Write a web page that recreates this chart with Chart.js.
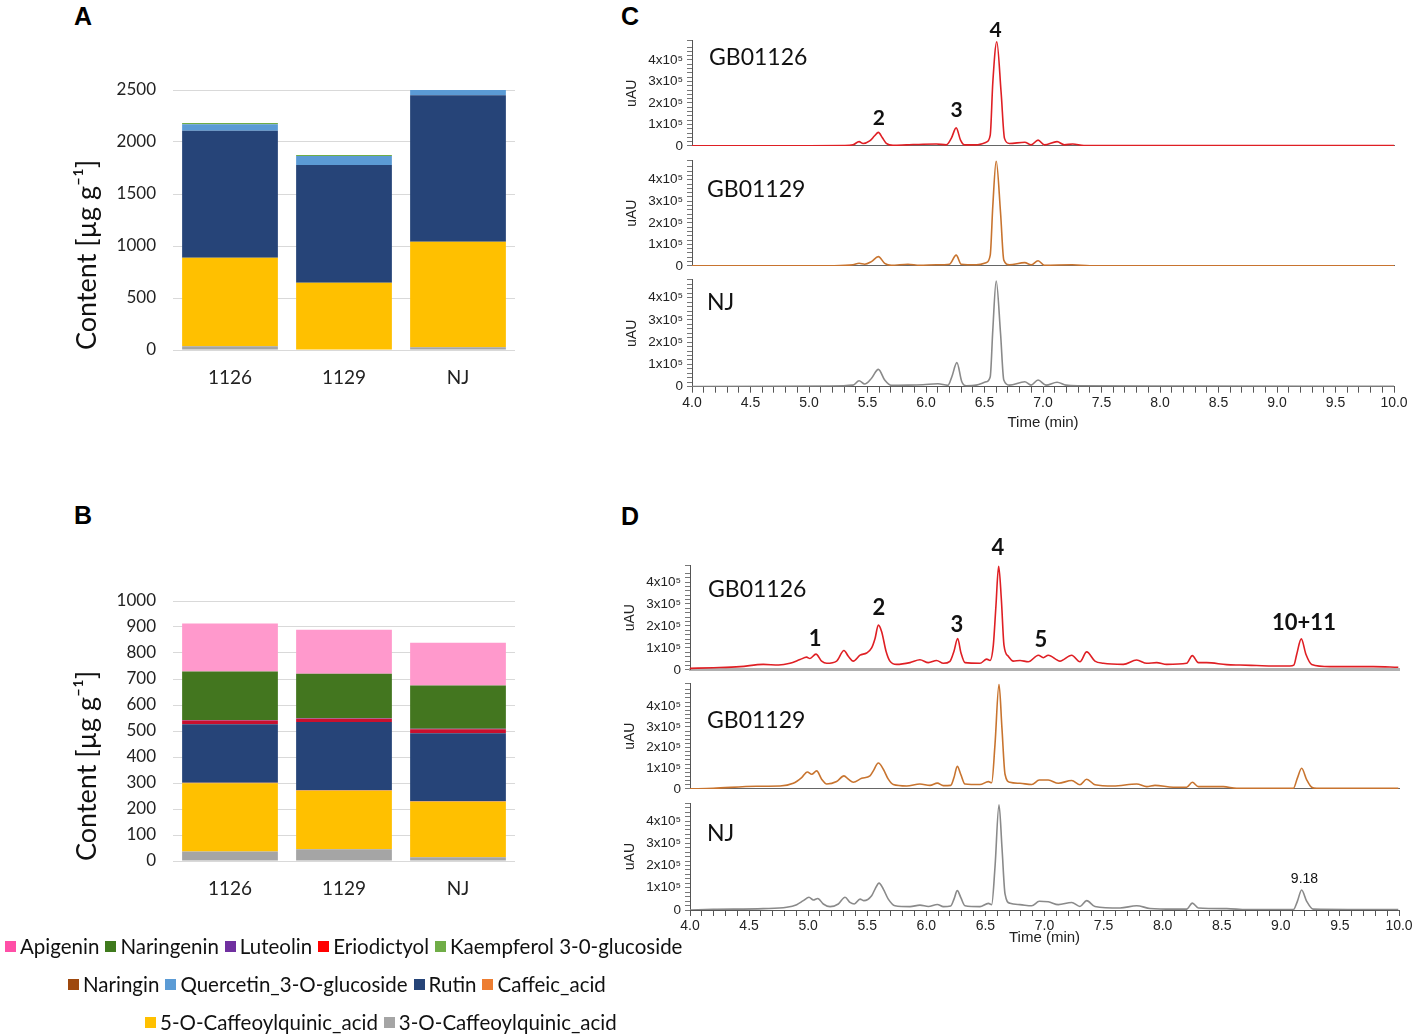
<!DOCTYPE html>
<html>
<head>
<meta charset="utf-8">
<script src="https://cdn.jsdelivr.net/npm/chart.js@4.4.1/dist/chart.umd.min.js"></script>
<style>
  html, body { margin: 0; padding: 0; background: #fff; }
  body { width: 1417px; height: 1034px; position: relative; overflow: hidden; }
  canvas { position: absolute; }
  .panel { position: absolute; font: bold 25px "Liberation Sans", Arial, sans-serif; line-height: 25px; color: #000; }
  #legend { position: absolute; left: 0; top: 927px; width: 720px; font: 20.5px Lato, sans-serif; color: #111; }
  .row { display: flex; height: 38px; align-items: center; white-space: nowrap; }
  .item { display: flex; align-items: center; margin-right: 6px; }
  .sw { width: 11px; height: 11px; margin-right: 4px; }
</style>
</head>
<body>
<div class="panel" style="left:74px;top:4px">A</div>
<div class="panel" style="left:74px;top:503px">B</div>
<div class="panel" style="left:621px;top:4px">C</div>
<div class="panel" style="left:621px;top:504px">D</div>

<canvas id="chartA"></canvas>
<canvas id="chartB"></canvas>
<canvas id="chartC1"></canvas>
<canvas id="chartC2"></canvas>
<canvas id="chartC3"></canvas>
<canvas id="chartD1"></canvas>
<canvas id="chartD2"></canvas>
<canvas id="chartD3"></canvas>
<div id="legend"></div>

<script>
// ---------- data ----------
const samples = ['1126', '1129', 'NJ'];
const compounds = ['Apigenin', 'Naringenin', 'Luteolin', 'Eriodictyol', 'Kaempferol 3-0-glucoside',
    'Naringin', 'Quercetin_3-O-glucoside', 'Rutin', 'Caffeic_acid',
    '5-O-Caffeoylquinic_acid', '3-O-Caffeoylquinic_acid'];

// panel A, content in µg/g, same order as compounds
const a1126 = [0, 0, 0, 0, 13, 0, 61, 1221, 0, 853, 35];
const a1129 = [0, 0, 0, 0, 10, 0, 86, 1132, 0, 642, 5];
const aNJ   = [0, 0, 0, 0, 0, 0, 51, 1407, 0, 1016, 26];

// panel B
const b1126 = [184, 187, 2, 14, 0, 0, 0, 225, 2, 262, 37];
const b1129 = [169, 171, 2, 12, 0, 0, 0, 263, 2, 225, 45];
const bNJ   = [164, 166, 2, 16, 0, 0, 0, 261, 2, 214, 14];

// chromatograms, [time (min), signal (x10^5 uAU)]
const c1126 = [[4.0,0.01],[4.5,0.01],[5.0,0.01],[5.3,0.02],[5.376,0.05],[5.428,0.2],[5.462,0.11],[5.519,0.23],
    [5.561,0.47],[5.593,0.63],[5.627,0.38],[5.661,0.12],[5.718,0.03],[5.832,0.05],[5.974,0.08],[6.088,0.09],
    [6.173,0.05],[6.216,0.35],[6.258,0.84],[6.295,0.27],[6.329,0.05],[6.429,0.05],[6.514,0.17],[6.549,0.5],
    [6.571,2.95],[6.605,4.85],[6.642,2.49],[6.671,0.35],[6.713,0.11],[6.844,0.17],[6.898,0.05],[6.958,0.27],
    [7.012,0.05],[7.12,0.2],[7.183,0.05],[7.254,0.09],[7.35,0.02],[8.0,0.02],[9.0,0.02],[10.0,0.02]];
const c1129 = [[4.0,0.0],[5.206,0.01],[5.376,0.05],[5.428,0.12],[5.476,0.08],[5.533,0.2],[5.593,0.43],[5.647,0.12],
    [5.704,0.03],[5.846,0.08],[5.945,0.03],[6.088,0.05],[6.201,0.08],[6.258,0.5],[6.301,0.08],[6.429,0.05],
    [6.514,0.15],[6.549,0.5],[6.571,2.78],[6.6,4.87],[6.637,2.48],[6.665,0.27],[6.713,0.05],[6.844,0.15],
    [6.898,0.05],[6.958,0.24],[7.012,0.03],[7.25,0.05],[7.4,0.01],[10.0,0.01]];
const cNJ = [[4.0,0.01],[5.177,0.03],[5.376,0.07],[5.428,0.27],[5.476,0.12],[5.533,0.37],[5.593,0.78],[5.647,0.3],
    [5.704,0.06],[5.846,0.07],[5.974,0.09],[6.102,0.13],[6.187,0.06],[6.221,0.45],[6.264,1.08],[6.306,0.22],
    [6.344,0.04],[6.429,0.07],[6.514,0.22],[6.549,0.45],[6.571,2.55],[6.6,4.75],[6.637,2.4],[6.665,0.3],
    [6.713,0.07],[6.844,0.22],[6.898,0.07],[6.958,0.3],[7.026,0.07],[7.12,0.2],[7.197,0.07],[7.3,0.04],
    [8.2,0.03],[10.0,0.02]];

const d1126 = [[4.0,0.07],[4.2,0.1],[4.423,0.15],[4.62,0.25],[4.75,0.22],[4.846,0.3],[4.931,0.47],[4.987,0.58],
    [5.015,0.52],[5.066,0.72],[5.114,0.4],[5.157,0.3],[5.241,0.4],[5.303,0.88],[5.34,0.62],[5.382,0.4],
    [5.439,0.67],[5.495,0.77],[5.537,1.0],[5.566,1.43],[5.594,2.04],[5.622,1.74],[5.659,0.85],[5.692,0.4],
    [5.749,0.25],[5.862,0.33],[5.946,0.46],[6.017,0.33],[6.087,0.43],[6.144,0.3],[6.2,0.39],[6.234,0.85],
    [6.265,1.43],[6.293,0.78],[6.327,0.33],[6.454,0.3],[6.511,0.49],[6.539,0.43],[6.567,1.13],[6.589,2.91],
    [6.612,4.73],[6.635,3.2],[6.657,1.13],[6.694,0.62],[6.736,0.4],[6.793,0.43],[6.863,0.37],[6.948,0.67],
    [6.99,0.55],[7.032,0.67],[7.131,0.4],[7.23,0.67],[7.3,0.37],[7.357,0.82],[7.427,0.4],[7.498,0.3],
    [7.667,0.25],[7.78,0.45],[7.865,0.3],[7.949,0.33],[8.034,0.25],[8.203,0.3],[8.251,0.65],[8.302,0.33],
    [8.372,0.33],[8.541,0.24],[8.654,0.22],[8.795,0.2],[8.936,0.18],[9.077,0.18],[9.11,0.22],[9.134,0.7],
    [9.173,1.41],[9.213,0.7],[9.261,0.25],[9.416,0.15],[9.783,0.15],[9.994,0.12]];
const d1129 = [[4.0,0.0],[4.197,0.03],[4.564,0.13],[4.762,0.14],[4.874,0.27],[4.945,0.55],[4.993,0.82],[5.03,0.71],
    [5.072,0.87],[5.114,0.47],[5.157,0.24],[5.241,0.36],[5.303,0.63],[5.34,0.47],[5.382,0.32],[5.453,0.51],
    [5.523,0.63],[5.551,0.87],[5.594,1.25],[5.636,0.95],[5.678,0.47],[5.72,0.21],[5.834,0.14],[5.946,0.24],
    [6.031,0.17],[6.093,0.28],[6.144,0.16],[6.206,0.17],[6.234,0.55],[6.262,1.09],[6.291,0.71],[6.327,0.24],
    [6.454,0.21],[6.525,0.35],[6.553,0.3],[6.581,2.14],[6.615,5.06],[6.64,2.93],[6.666,0.71],[6.708,0.32],
    [6.793,0.27],[6.892,0.21],[6.956,0.43],[7.032,0.43],[7.117,0.27],[7.23,0.41],[7.3,0.2],[7.357,0.47],
    [7.427,0.2],[7.582,0.14],[7.78,0.24],[7.865,0.11],[7.935,0.17],[8.09,0.08],[8.203,0.08],[8.251,0.32],
    [8.302,0.11],[8.513,0.11],[8.626,0.03],[9.106,0.03],[9.14,0.52],[9.176,1.0],[9.219,0.44],[9.261,0.08],
    [9.303,0.03],[9.994,0.03]];
const dNJ = [[4.0,0.0],[4.197,0.03],[4.62,0.06],[4.818,0.12],[4.903,0.24],[4.959,0.42],[5.007,0.57],[5.044,0.45],
    [5.081,0.52],[5.128,0.27],[5.185,0.15],[5.255,0.27],[5.312,0.57],[5.354,0.34],[5.39,0.27],[5.439,0.49],
    [5.472,0.42],[5.537,0.64],[5.566,0.94],[5.6,1.21],[5.636,0.94],[5.678,0.49],[5.735,0.19],[5.862,0.15],
    [5.946,0.22],[6.017,0.16],[6.093,0.25],[6.144,0.15],[6.206,0.18],[6.234,0.49],[6.262,0.87],[6.291,0.57],
    [6.327,0.19],[6.454,0.15],[6.525,0.3],[6.553,0.24],[6.581,1.92],[6.615,4.73],[6.64,2.82],[6.666,0.72],
    [6.708,0.3],[6.793,0.24],[6.892,0.19],[6.956,0.39],[7.032,0.37],[7.117,0.24],[7.23,0.34],[7.3,0.16],
    [7.357,0.42],[7.427,0.16],[7.639,0.09],[7.78,0.19],[7.893,0.07],[8.09,0.04],[8.203,0.04],[8.251,0.31],
    [8.302,0.09],[8.541,0.06],[8.71,0.015],[9.106,0.015],[9.14,0.39],[9.176,0.9],[9.219,0.39],[9.274,0.04],
    [9.994,0.015]];

// ---------- styles ----------
const barColors = ['#ff99cc', '#43761f', '#7030a0', '#c8102e', '#70ad47', '#9e480e', '#5b9bd5', '#264478', '#ed7d31', '#ffc000', '#a5a5a5'];
const legendColors = ['#ff4fa7', '#3f7a1d', '#7030a0', '#ff0000', '#70ad47', '#9e480e', '#5b9bd5', '#264478', '#ed7d31', '#ffc000', '#a5a5a5'];
const SANS = 'Liberation Sans';

function place(id, left, top, w, h) {
    const c = document.getElementById(id);
    c.width = w; c.height = h;
    c.style.left = left + 'px'; c.style.top = top + 'px';
    c.style.width = w + 'px'; c.style.height = h + 'px';
    return c.getContext('2d');
}

// text put on a chart at data coordinates
const notesPlugin = {
    id: 'notes',
    afterDatasetsDraw(chart, args, opts) {
        const {ctx, scales: {x, y}} = chart;
        (opts.items || []).forEach(n => {
            ctx.save();
            ctx.font = n.font;
            ctx.fillStyle = n.color || '#111';
            ctx.textAlign = n.align || 'center';
            ctx.textBaseline = 'middle';
            ctx.fillText(n.text, x.getPixelForValue(n.t), y.getPixelForValue(n.v));
            ctx.restore();
        });
    }
};

// ---------- stacked bars (A, B) ----------
function barChart(id, top, rows, yMax, yStep) {
    const ctx = place(id, 40, top, 490, 340);
    const datasets = compounds.map((name, i) => ({
        label: name,
        data: rows.map(r => r[i]),
        backgroundColor: barColors[i],
        borderWidth: 0,
        barPercentage: 0.84,
        categoryPercentage: 1
    })).reverse();   // first dataset sits at the bottom of the stack

    new Chart(ctx, {
        type: 'bar',
        data: {labels: samples, datasets: datasets},
        options: {
            responsive: false,
            animation: false,
            layout: {padding: {left: 0, right: 15, top: 30, bottom: 0}},
            plugins: {legend: {display: false}, tooltip: {enabled: false}},
            scales: {
                x: {
                    stacked: true,
                    grid: {display: false, drawTicks: false},
                    border: {display: false},
                    ticks: {padding: 16, color: '#222', font: {family: 'Lato', size: 19}},
                    afterFit: s => { s.height = 50; }
                },
                y: {
                    stacked: true,
                    min: 0,
                    max: yMax,
                    grid: {color: '#d9d9d9', drawTicks: false},
                    border: {display: false},
                    ticks: {stepSize: yStep, padding: 17, color: '#222', font: {family: 'Lato', size: 17},
                        callback: v => String(v)},
                    title: {
                        display: true,
                        text: 'Content [µg g⁻¹]',
                        align: 'start',
                        color: '#111',
                        font: {family: 'Lato', size: 27},
                        padding: {top: 31, bottom: 0}
                    },
                    afterFit: s => { s.width = 133; }
                }
            }
        }
    });
}

barChart('chartA', 60, [a1126, a1129, aNJ], 2500, 500);
barChart('chartB', 571, [b1126, b1129, bNJ], 1000, 100);

// ---------- chromatograms (C, D) ----------
function isWhole(v) { return Math.abs(v - Math.round(v)) < 1e-6; }

function chromChart(id, o) {
    const areaTop = o.zero - o.yMax * o.pxPer;
    const xH = o.xAxis ? o.xH : 10;
    const canvasTop = Math.floor(areaTop - 40);
    const canvasH = Math.ceil(o.zero + xH - canvasTop);
    const ctx = place(id, 600, canvasTop, 817, canvasH);

    const xScale = o.xAxis ? {
        type: 'linear', min: 4, max: 10,
        border: {display: true, color: '#555', width: 1},
        grid: {display: true, drawOnChartArea: false, drawTicks: true, tickLength: 6, color: '#555'},
        ticks: {
            stepSize: 0.1, autoSkip: false, maxRotation: 0, padding: 2,
            color: '#222', font: {family: SANS, size: 14},
            callback: v => isWhole(v * 2) ? v.toFixed(1) : ''
        },
        title: {display: true, text: 'Time (min)', color: '#222', font: {family: SANS, size: 15}, padding: {top: 0, bottom: 0}},
        afterFit: s => { s.height = xH; }
    } : {
        type: 'linear', min: 4, max: 10,
        ticks: {display: false},
        grid: {display: false, drawTicks: false},
        border: {display: true, color: o.baseColor, width: o.baseWidth},
        afterFit: s => { s.height = xH; }
    };

    new Chart(ctx, {
        type: 'line',
        data: {
            datasets: [{
                data: o.trace.map(p => ({x: p[0], y: p[1]})),
                borderColor: o.color,
                borderWidth: 1.6,
                pointRadius: 0,
                fill: false,
                cubicInterpolationMode: 'monotone'
            }]
        },
        options: {
            responsive: false,
            animation: false,
            layout: {padding: {left: o.left - 690, right: 1417 - o.right, top: areaTop - canvasTop, bottom: canvasH - (o.zero + xH - canvasTop)}},
            plugins: {legend: {display: false}, tooltip: {enabled: false}, notes: {items: o.notes}},
            scales: {
                x: xScale,
                y: {
                    min: 0, max: o.yMax,
                    border: {display: true, color: '#555', width: 1},
                    grid: {display: true, drawOnChartArea: false, drawTicks: true, tickLength: 5, color: '#777'},
                    ticks: {
                        stepSize: 0.2, autoSkip: false, padding: 4,
                        color: '#222', font: {family: SANS, size: 13.5},
                        callback: v => isWhole(v) ? (Math.round(v) === 0 ? '0' : Math.round(v) + 'x10⁵') : ''
                    },
                    title: {display: true, text: 'uAU', color: '#222', font: {family: SANS, size: 14}, padding: {top: 22, bottom: 0}},
                    afterFit: s => { s.width = 90; }
                }
            }
        },
        plugins: [notesPlugin]
    });
}

const RED = '#df1f24', ORANGE = '#c8742f', GREY = '#8a8a8a';
const nameFont = '23px Lato';
const peakC = 'bold 21px Lato';
const peakD = 'bold 22px Lato';

chromChart('chartC1', {zero: 147.7, pxPer: 21.85, yMax: 4.9, left: 692, right: 1394, trace: c1126, color: RED,
    baseColor: '#666', baseWidth: 1,
    notes: [
        {t: 4.145, v: 4.1, text: 'GB01126', font: nameFont, align: 'left'},
        {t: 5.596, v: 1.31, text: '2', font: peakC},
        {t: 6.261, v: 1.68, text: '3', font: peakC},
        {t: 6.594, v: 5.39, text: '4', font: peakC}
    ]});
chromChart('chartC2', {zero: 267.7, pxPer: 21.9, yMax: 4.9, left: 692, right: 1394, trace: c1129, color: ORANGE,
    baseColor: '#666', baseWidth: 1,
    notes: [{t: 4.128, v: 3.55, text: 'GB01129', font: nameFont, align: 'left'}]});
chromChart('chartC3', {zero: 386.7, pxPer: 22.25, yMax: 4.8, left: 692, right: 1394, trace: cNJ, color: GREY,
    xAxis: true, xH: 45,
    notes: [{t: 4.128, v: 3.76, text: 'NJ', font: nameFont, align: 'left'}]});

chromChart('chartD1', {zero: 671.7, pxPer: 22.35, yMax: 4.75, left: 690, right: 1399, trace: d1126, color: RED,
    baseColor: '#b0b0b0', baseWidth: 3,
    notes: [
        {t: 4.152, v: 3.66, text: 'GB01126', font: nameFont, align: 'left'},
        {t: 5.058, v: 1.42, text: '1', font: peakD},
        {t: 5.599, v: 2.8, text: '2', font: peakD},
        {t: 6.259, v: 2.04, text: '3', font: peakD},
        {t: 6.606, v: 5.53, text: '4', font: peakD},
        {t: 6.97, v: 1.37, text: '5', font: peakD},
        {t: 9.196, v: 2.13, text: '10+11', font: peakD}
    ]});
chromChart('chartD2', {zero: 791, pxPer: 21.08, yMax: 5.1, left: 690, right: 1399, trace: d1129, color: ORANGE,
    baseColor: '#666', baseWidth: 1,
    notes: [{t: 4.144, v: 3.32, text: 'GB01129', font: nameFont, align: 'left'}]});
chromChart('chartD3', {zero: 910, pxPer: 22.25, yMax: 4.8, left: 690, right: 1399, trace: dNJ, color: GREY,
    xAxis: true, xH: 37,
    notes: [
        {t: 4.144, v: 3.42, text: 'NJ', font: nameFont, align: 'left'},
        {t: 9.2, v: 1.39, text: '9.18', font: '14px "Liberation Sans"'}
    ]});

// ---------- legend ----------
const legendRowStart = [0, 5, 9, 11];
const legendRowLeft = [5, 68, 145];
const legend = document.getElementById('legend');
legendRowLeft.forEach((left, r) => {
    const row = document.createElement('div');
    row.className = 'row';
    row.style.paddingLeft = left + 'px';
    for (let i = legendRowStart[r]; i < legendRowStart[r + 1]; i++) {
        const item = document.createElement('span');
        item.className = 'item';
        const sw = document.createElement('span');
        sw.className = 'sw';
        sw.style.background = legendColors[i];
        item.appendChild(sw);
        item.appendChild(document.createTextNode(compounds[i]));
        row.appendChild(item);
    }
    legend.appendChild(row);
});
</script>
</body>
</html>
